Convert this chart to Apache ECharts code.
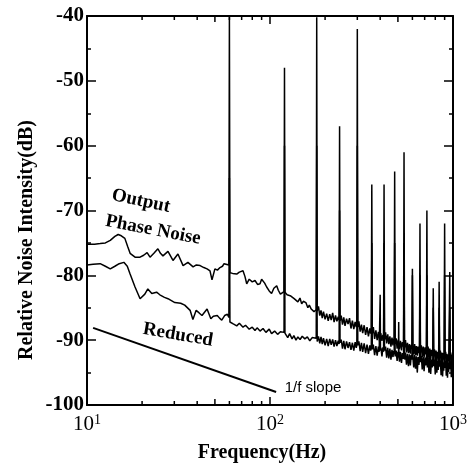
<!DOCTYPE html>
<html>
<head>
<meta charset="utf-8">
<title>Relative noise intensity</title>
<script src="https://cdn.jsdelivr.net/npm/echarts@6/dist/echarts.min.js"></script>
<style>
  html, body { margin: 0; padding: 0; background: #fff; }
  #main { width: 476px; height: 471px; }
</style>
</head>
<body>
<div id="main"></div>
<script>
// upper trace: output phase noise (Hz, dB)
var outputFreq = [10, 11, 11.8, 12.6, 13.4, 14.2, 14.8, 15.4, 16.1, 16.7,
  17.2, 18.3, 19.5, 20.4, 21.3, 22.1, 23.2, 24.4, 25.2, 26.0,
  27.7, 29.5, 31.4, 33.5, 35.6, 38.0, 39.6, 41.5, 43.5, 45.3,
  47.0, 48.2, 50.0, 51.6, 53.3, 55.0, 56.1, 57.5, 59.6, 60,
  60.4, 62.5, 64, 65.8, 68, 71.2, 73, 74.6, 77, 80,
  82.8, 85.5, 88.2, 90, 91.6, 93.5, 95.9, 99, 102, 105,
  108.8, 111, 114, 116, 119.3, 120, 120.7, 124, 127, 130,
  133, 135.5, 138.7, 142, 145.8, 149, 152, 157, 161, 164,
  168, 171, 174, 178.9, 180,
  181.1, 184, 187, 190, 193, 196, 200, 204, 208, 212,
  216, 220, 224, 228, 232, 236, 238.6, 240, 241.4, 245,
  249, 253, 257, 262, 267, 272, 277, 282, 287, 292,
  296, 298.2, 300, 301.8, 306, 311, 316, 321, 327, 333,
  339, 345, 351, 355, 357.8, 360, 362.2, 367, 373, 379,
  385, 391, 397, 403, 409, 414, 417.5, 420, 422.5, 428,
  434, 440, 446, 452, 458, 464, 470, 474, 477.1, 480,
  482.9, 489, 495, 502, 509, 516, 523, 529, 533, 536.8,
  540, 543.2, 550, 557, 564, 571, 578, 585, 591, 596.4,
  600, 603.6, 610, 617, 624, 631, 638, 645, 651, 656,
  660, 664, 671, 679, 687, 695, 703, 710, 715.7, 720,
  724.3, 731, 739, 747, 755, 763, 770, 775.3, 780, 784.7,
  792, 800, 808, 816, 824, 830, 835, 840, 845, 853,
  861, 869, 877, 884, 890, 894.6, 900, 905.4, 912, 919,
  926, 933, 940, 946, 950, 954.2, 960, 965.8, 972, 979,
  986, 993, 1000];
var outputDb = [-75.2, -75.2, -75.1, -75.0, -74.6, -74.0, -73.7, -73.9, -74.3, -75.6,
  -76.6, -77.2, -77.2, -76.9, -76.5, -77.2, -76.6, -75.9, -76.6, -77.0,
  -76.3, -77.7, -76.7, -78.5, -78.0, -78.7, -78.4, -78.5, -78.8, -79.0,
  -79.3, -80.7, -79.0, -79.2, -78.8, -78.6, -78.2, -78.5, -78.4, -40.2,
  -79.6, -79.7, -79.4, -79.8, -79.5, -79.3, -80.2, -81.3, -80.6, -81.0,
  -80.8, -81.4, -81.3, -80.6, -80.3, -81.2, -81.8, -82.4, -82.8, -82.0,
  -81.6, -82.3, -82.9, -82.6, -82.5, -48.0, -82.6, -83.0, -82.7, -83.2,
  -83.0, -83.6, -83.4, -84.1, -83.5, -84.4, -84.0, -84.2, -85.0, -84.6,
  -85.2, -85.1, -85.6, -85.3, -40.2,
  -85.5, -84.8, -86.2, -85.4, -86.6, -85.6, -86.8, -85.9, -87.0, -86.0,
  -86.9, -85.8, -87.2, -86.2, -87.1, -86.4, -86.9, -57.0, -87.0, -86.2,
  -87.6, -86.5, -87.8, -86.7, -87.5, -86.6, -88.2, -87.0, -88.3, -87.2,
  -88.0, -87.6, -42.0, -88.0, -87.1, -88.7, -87.6, -88.9, -87.7, -89.2,
  -88.0, -89.4, -88.2, -89.0, -88.6, -66.0, -89.0, -88.0, -89.8, -88.5,
  -90.0, -88.7, -90.2, -88.9, -90.1, -89.2, -89.6, -66.0, -89.9, -88.8,
  -90.5, -89.1, -90.6, -89.4, -91.0, -89.6, -90.8, -89.8, -90.3, -64.0,
  -90.6, -89.7, -91.3, -89.9, -91.4, -90.1, -91.6, -90.3, -91.0, -90.6,
  -61.0, -91.1, -90.0, -91.9, -90.4, -92.0, -90.6, -92.1, -90.7, -91.4,
  -79.0, -91.0, -92.2, -90.6, -92.3, -90.9, -92.4, -91.0, -92.0, -91.3,
  -72.0, -91.9, -90.8, -92.6, -91.0, -92.7, -91.1, -92.2, -91.6, -70.0,
  -92.2, -91.0, -93.0, -91.3, -93.1, -91.5, -92.4, -92.0, -82.0, -92.5,
  -91.4, -93.4, -91.6, -93.5, -91.8, -92.8, -92.1, -81.0, -92.7, -91.6,
  -93.6, -91.9, -93.7, -92.0, -93.0, -92.3, -72.0, -92.8, -91.8, -93.9,
  -92.1, -94.0, -92.2, -93.2, -92.5, -92.6, -79.5, -93.0, -91.9, -94.2,
  -92.2, -93.8, -92.6];

// lower trace: reduced noise (Hz, dB)
var reducedFreq = [10, 10.8, 11.8, 12.6, 13.4, 14.2, 15.0, 15.9, 16.6, 17.2,
  18.3, 19.5, 20.7, 21.5, 22.6, 24.0, 25.0, 26.5, 27.7, 30.2,
  32.5, 34.2, 36.6, 37.9, 39.5, 41.0, 42.5, 45.3, 47.5, 49.0,
  51.5, 53.0, 54.5, 56.5, 58.5, 59.6, 60, 60.4, 63, 65.8,
  68, 71.2, 73.5, 77, 80, 82.8, 85, 88.2, 91.6, 95,
  99, 102, 106, 110, 114, 119.3, 120, 120.7, 125, 128,
  132, 135, 138.7, 142, 146, 150, 155, 160, 165, 170,
  174, 178.9, 180,
  181.1, 184, 187, 190, 193, 196, 200, 204, 208, 212,
  216, 220, 224, 228, 232, 236, 238.6, 240, 241.4, 245,
  249, 253, 257, 262, 267, 272, 277, 282, 287, 292,
  296, 298.2, 300, 301.8, 306, 311, 316, 321, 327, 333,
  339, 345, 351, 355, 357.8, 360, 362.2, 367, 373, 379,
  385, 391, 395, 398.5, 400, 401.5, 404, 409, 414, 417.5,
  420, 422.5, 428, 434, 440, 446, 452, 458, 464, 470,
  474, 477.1, 480, 482.9, 489, 495, 500, 503.5, 505, 506.5,
  510, 516, 523, 529, 533, 536.8, 540, 543.2, 550, 557,
  564, 571, 578, 585, 591, 596.4, 600, 603.6, 610, 617,
  624, 631, 638, 645, 651, 656, 660, 664, 671, 679,
  687, 695, 703, 710, 715.7, 720, 724.3, 731, 739, 747,
  755, 763, 770, 775.3, 780, 784.7, 792, 800, 808, 816,
  824, 830, 835, 840, 845, 853, 861, 869, 877, 884,
  890, 894.6, 900, 905.4, 912, 919, 926, 933, 940, 946,
  950, 954.2, 960, 965.8, 972, 979, 986, 993, 1000];
var reducedDb = [-78.4, -78.3, -78.2, -78.6, -79.0, -78.6, -78.2, -78.0, -78.6, -79.8,
  -81.8, -83.6, -82.9, -82.1, -82.8, -82.6, -83.0, -83.4, -83.6, -84.2,
  -84.3, -84.6, -85.4, -86.8, -85.4, -85.8, -86.2, -85.2, -86.7, -86.3,
  -86.2, -86.6, -86.9, -86.2, -86.0, -86.5, -65.0, -87.2, -87.5, -87.8,
  -87.4, -88.0, -87.7, -88.3, -88.0, -88.5, -88.1, -88.6, -88.2, -88.8,
  -88.3, -89.0, -88.6, -89.1, -88.7, -88.8, -60.0, -88.9, -89.6, -89.0,
  -89.8, -89.3, -90.0, -89.5, -89.9, -89.4, -89.8, -89.5, -90.1, -89.6,
  -89.8, -89.7, -60.0,
  -90.2, -89.4, -90.5, -89.5, -90.6, -89.7, -90.8, -89.8, -90.9, -89.8,
  -90.7, -89.9, -91.0, -90.0, -90.9, -90.1, -90.6, -70.0, -90.4, -89.9,
  -91.3, -90.1, -91.4, -90.2, -91.2, -90.3, -91.5, -90.4, -91.6, -90.3,
  -91.2, -90.8, -60.0, -90.8, -90.2, -91.7, -90.4, -91.8, -90.5, -92.0,
  -90.7, -92.1, -90.8, -91.6, -91.1, -75.0, -91.4, -90.7, -92.3, -90.9,
  -92.4, -91.0, -91.8, -91.5, -83.0, -91.6, -91.2, -92.5, -91.1, -91.8,
  -75.0, -91.6, -91.0, -92.7, -91.2, -92.8, -91.3, -93.0, -91.5, -92.6,
  -91.7, -92.2, -75.0, -92.5, -91.6, -93.2, -91.8, -92.4, -87.2, -92.6,
  -93.3, -91.8, -93.5, -92.0, -92.9, -92.3, -75.0, -93.0, -91.9, -93.8,
  -92.1, -94.0, -92.2, -93.9, -92.3, -93.0, -80.0, -92.6, -94.2, -92.3,
  -94.4, -92.5, -95.0, -92.6, -93.8, -92.9, -80.0, -93.4, -92.4, -94.5,
  -92.6, -94.8, -92.7, -93.9, -93.1, -80.0, -94.2, -92.7, -95.0, -92.9,
  -95.2, -93.0, -94.2, -93.3, -85.0, -94.0, -93.0, -95.3, -93.1, -95.0,
  -93.2, -94.6, -93.5, -85.0, -94.1, -93.1, -95.4, -93.3, -95.6, -93.4,
  -94.7, -93.6, -80.0, -94.3, -93.2, -95.5, -93.4, -95.8, -93.5, -94.9,
  -93.7, -93.8, -85.0, -94.5, -93.3, -95.7, -93.5, -95.2, -94.0];

// 1/f reference slope
var slopeFreq = [10.8, 108];
var slopeDb = [-88.1, -98.0];

// log minor ticks on the frequency axis
var minorTickFreq = [20, 30, 40, 50, 60, 70, 80, 90, 200, 300, 400, 500, 600, 700, 800, 900];

function pairs(xs, ys) {
  return xs.map(function (x, i) { return [x, ys[i]]; });
}

var serif = 'Liberation Serif';
var chart = echarts.init(document.getElementById('main'), null, { renderer: 'canvas' });

var option = {
  animation: false,
  backgroundColor: '#fff',
  grid: { left: 87, right: 23, top: 16, bottom: 66 },
  xAxis: [{
    type: 'log', logBase: 10, min: 10, max: 1000, position: 'bottom',
    axisLine: { show: true, lineStyle: { color: '#000', width: 2 } },
    axisTick: { inside: true, length: 8, lineStyle: { color: '#000', width: 1.5 } },
    splitLine: { show: false },
    axisLabel: {
      margin: 8, color: '#000',
      formatter: function (v) { return '{b|10}{s|' + Math.round(Math.log10(v)) + '}'; },
      rich: {
        b: { fontFamily: serif, fontSize: 21, color: '#000', lineHeight: 22 },
        s: { fontFamily: serif, fontSize: 14, color: '#000', verticalAlign: 'top', lineHeight: 14, padding: [0, 0, 8, 0] }
      }
    }
  }, {
    type: 'log', logBase: 10, min: 10, max: 1000, position: 'top',
    axisLine: { show: true, lineStyle: { color: '#000', width: 2 } },
    axisTick: { inside: true, length: 8, lineStyle: { color: '#000', width: 1.5 } },
    axisLabel: { show: false },
    splitLine: { show: false }
  }],
  yAxis: [{
    type: 'value', min: -100, max: -40, interval: 10, position: 'left',
    axisLine: { show: true, lineStyle: { color: '#000', width: 2 } },
    axisTick: { inside: true, length: 9, lineStyle: { color: '#000', width: 1.5 } },
    minorTick: { show: true, splitNumber: 2, length: 4, lineStyle: { color: '#000', width: 1.5 } },
    splitLine: { show: false },
    axisLabel: { margin: 3, color: '#000', fontFamily: serif, fontSize: 21, fontWeight: 'bold' }
  }, {
    type: 'value', min: -100, max: -40, interval: 10, position: 'right',
    axisLine: { show: true, lineStyle: { color: '#000', width: 2 } },
    axisTick: { inside: true, length: 9, lineStyle: { color: '#000', width: 1.5 } },
    minorTick: { show: true, splitNumber: 2, length: 4, lineStyle: { color: '#000', width: 1.5 } },
    splitLine: { show: false },
    axisLabel: { show: false }
  }],
  series: [{
    name: 'Output Phase Noise', type: 'line', showSymbol: false,
    data: pairs(outputFreq, outputDb),
    lineStyle: { color: '#000', width: 1.5 }
  }, {
    name: 'Reduced', type: 'line', showSymbol: false,
    data: pairs(reducedFreq, reducedDb),
    lineStyle: { color: '#000', width: 1.5 }
  }, {
    name: '1/f slope', type: 'line', showSymbol: false,
    data: pairs(slopeFreq, slopeDb),
    lineStyle: { color: '#000', width: 2 }
  }, {
    type: 'custom', silent: true,
    data: minorTickFreq.map(function (f) { return [f, -100]; }),
    renderItem: function (params, api) {
      var f = api.value(0);
      var lead = f / Math.pow(10, Math.floor(Math.log10(f) + 1e-9));
      var len = Math.abs(lead - 5) < 1e-6 ? 6 : 4;
      var b = api.coord([f, -100]);
      var t = api.coord([f, -40]);
      var st = { stroke: '#000', lineWidth: 1.5 };
      return {
        type: 'group',
        children: [
          { type: 'line', shape: { x1: b[0], y1: b[1], x2: b[0], y2: b[1] - len }, style: st },
          { type: 'line', shape: { x1: t[0], y1: t[1], x2: t[0], y2: t[1] + len }, style: st }
        ]
      };
    }
  }],
  graphic: [
    { type: 'text', x: 27, y: 240, rotation: Math.PI / 2,
      style: { text: 'Relative Noise Intensity(dB)', font: 'bold 20px "Liberation Serif"', fill: '#000', align: 'center', verticalAlign: 'middle' } },
    { type: 'text', x: 262, y: 453,
      style: { text: 'Frequency(Hz)', font: 'bold 20px "Liberation Serif"', fill: '#000', align: 'center', verticalAlign: 'middle' } },
    { type: 'text', x: 141, y: 201, rotation: -0.21,
      style: { text: 'Output', font: 'bold 19px "Liberation Serif"', fill: '#000', align: 'center', verticalAlign: 'middle' } },
    { type: 'text', x: 153, y: 230, rotation: -0.19,
      style: { text: 'Phase Noise', font: 'bold 19px "Liberation Serif"', fill: '#000', align: 'center', verticalAlign: 'middle' } },
    { type: 'text', x: 178, y: 335, rotation: -0.17,
      style: { text: 'Reduced', font: 'bold 19px "Liberation Serif"', fill: '#000', align: 'center', verticalAlign: 'middle' } },
    { type: 'text', x: 313, y: 388,
      style: { text: '1/f slope', font: '15px "Liberation Sans"', fill: '#000', align: 'center', verticalAlign: 'middle' } }
  ]
};

chart.setOption(option);
</script>
</body>
</html>
